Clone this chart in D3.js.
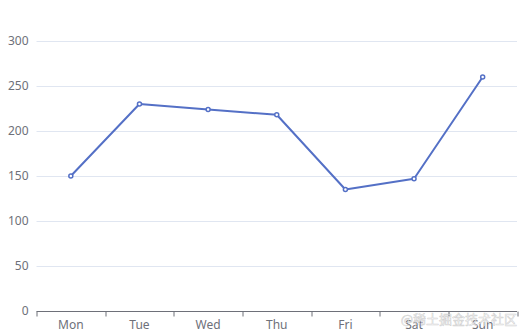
<!DOCTYPE html>
<html>
<head>
<meta charset="utf-8">
<script src="https://cdn.jsdelivr.net/npm/d3@7"></script>
<style>
  html, body { margin: 0; padding: 0; background: #fff; }
  #chart { width: 525px; height: 336px; }
</style>
</head>
<body>
<div id="chart"></div>
<script>
const days = ['Mon', 'Tue', 'Wed', 'Thu', 'Fri', 'Sat', 'Sun'];
const values = [150, 230, 224, 218, 135, 147, 260];
const yTicks = [0, 50, 100, 150, 200, 250, 300];

const margin = { top: 41, right: 8, bottom: 25, left: 36.5 };
const width = 525 - margin.left - margin.right;
const height = 336 - margin.top - margin.bottom;
const font = "'Microsoft YaHei', 'Noto Sans', sans-serif";

const svg = d3.select('#chart')
  .append('svg')
  .attr('width', 525)
  .attr('height', 336)
  .append('g')
  .attr('transform', `translate(${margin.left},${margin.top})`);

const x = d3.scaleBand()
  .domain(days)
  .range([0, width]);

const y = d3.scaleLinear()
  .domain([0, 300])
  .range([height, 0]);

// grid lines
svg.append('g')
  .selectAll('line')
  .data(yTicks.slice(1))
  .enter()
  .append('line')
  .attr('x1', 0)
  .attr('x2', width)
  .attr('y1', d => Math.round(y(d)) + 0.5)
  .attr('y2', d => Math.round(y(d)) + 0.5)
  .attr('stroke', '#e0e6f1');

// y labels
svg.append('g')
  .selectAll('text')
  .data(yTicks)
  .enter()
  .append('text')
  .attr('x', -8)
  .attr('y', d => y(d))
  .attr('dy', '0.35em')
  .attr('text-anchor', 'end')
  .attr('fill', '#6e7079')
  .style('font-family', font)
  .style('font-size', '12px')
  .text(d => d);

// x axis
const xAxis = svg.append('g')
  .attr('transform', `translate(0,${Math.round(height) + 0.5})`);

xAxis.append('line')
  .attr('x1', 0).attr('x2', width)
  .attr('stroke', '#6e7079');

const bounds = days.map(d => x(d)).concat([width]);
xAxis.selectAll('.tick')
  .data(bounds)
  .enter()
  .append('line')
  .attr('x1', d => Math.round(d) + 0.5)
  .attr('x2', d => Math.round(d) + 0.5)
  .attr('y1', 0).attr('y2', 5)
  .attr('stroke', '#6e7079');

xAxis.selectAll('text')
  .data(days)
  .enter()
  .append('text')
  .attr('x', d => x(d) + x.bandwidth() / 2)
  .attr('y', 7)
  .attr('dy', '0.85em')
  .attr('text-anchor', 'middle')
  .attr('fill', '#6e7079')
  .style('font-family', font)
  .style('font-size', '12px')
  .text(d => d);

// line
const line = d3.line()
  .x((d, i) => x(days[i]) + x.bandwidth() / 2)
  .y(d => y(d));

svg.append('path')
  .datum(values)
  .attr('d', line)
  .attr('fill', 'none')
  .attr('stroke', '#5470c6')
  .attr('stroke-width', 2)
  .attr('stroke-linejoin', 'bevel');

svg.selectAll('.dot')
  .data(values)
  .enter()
  .append('circle')
  .attr('class', 'dot')
  .attr('cx', (d, i) => x(days[i]) + x.bandwidth() / 2)
  .attr('cy', d => y(d))
  .attr('r', 2)
  .attr('fill', '#fff')
  .attr('stroke', '#5470c6')
  .attr('stroke-width', 1.5);

// watermark
d3.select('svg').append('text')
  .attr('x', 517)
  .attr('y', 324)
  .attr('text-anchor', 'end')
  .attr('fill', '#ffffff')
  .attr('fill-opacity', 0.85)
  .attr('stroke', '#999')
  .attr('stroke-opacity', 0.45)
  .attr('stroke-width', 0.6)
  .style('font-family', "'Noto Sans CJK SC', sans-serif")
  .style('font-size', '13px')
  .text('@稀土掘金技术社区');
</script>
</body>
</html>
